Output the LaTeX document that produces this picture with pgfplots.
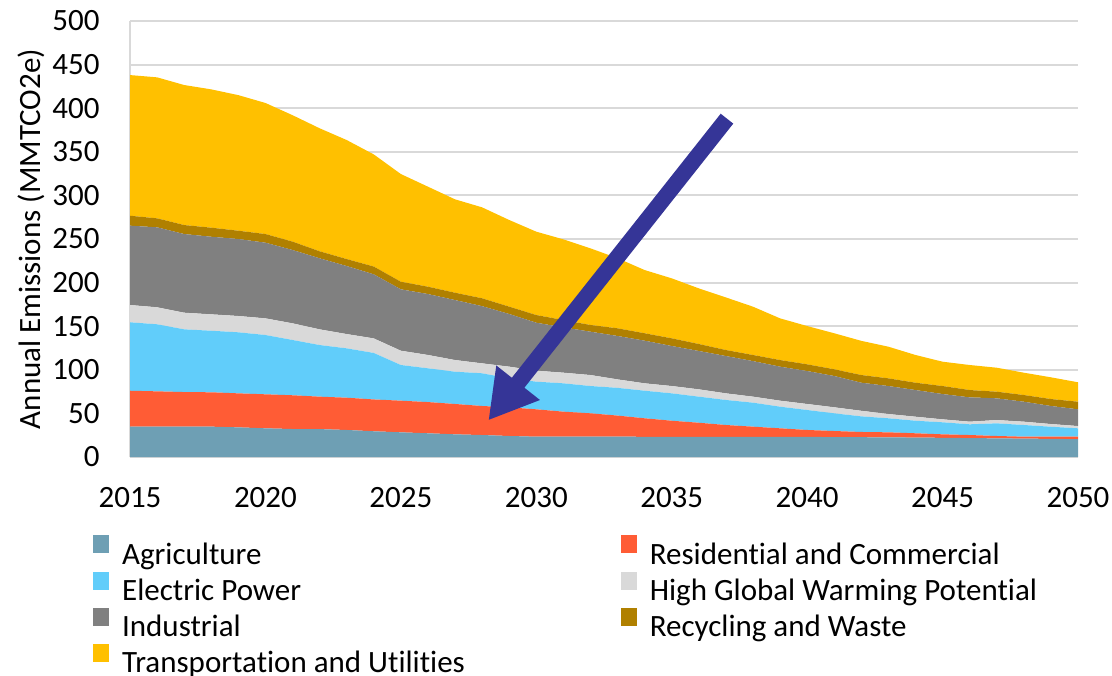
\documentclass[border=0pt]{standalone}
\usepackage{fontspec}
\setmainfont{Carlito}[Ligatures={NoCommon}]
\usepackage{pgfplots}
\usepackage{pgfplotstable}
\pgfplotsset{compat=1.18}
\usetikzlibrary{arrows.meta}
\definecolor{cAg}{HTML}{6E9FB4}
\definecolor{cRes}{HTML}{FF5C35}
\definecolor{cEl}{HTML}{61CDFA}
\definecolor{cHg}{HTML}{D9D9D9}
\definecolor{cInd}{HTML}{808080}
\definecolor{cRec}{HTML}{B08000}
\definecolor{cTr}{HTML}{FFC000}
\definecolor{cArrow}{HTML}{353597}
\definecolor{cGrid}{HTML}{D9D9D9}
\pgfplotstableread{
year a r e h i w t
2015 34.8 41.2 78.5 19.8 91.0 11.4 161.3
2016 34.8 40.5 76.9 19.5 91.7 10.3 161.7
2017 34.8 39.7 71.9 19.1 90.2 10.3 160.6
2018 34.8 39.4 70.6 18.8 89.0 10.4 158.6
2019 34.0 39.0 70.0 18.7 88.3 9.5 155.5
2020 32.9 39.0 68.0 19.1 86.8 9.9 150.3
2021 32.1 38.7 63.4 19.1 84.1 9.6 145.0
2022 32.0 37.2 59.2 18.0 81.5 8.0 141.1
2023 31.0 37.0 56.6 16.4 78.0 8.0 136.5
2024 29.5 36.5 53.3 16.7 73.5 8.9 128.6
2025 28.3 36.3 40.9 16.4 70.4 8.7 123.5
2026 27.2 35.8 38.7 15.3 69.9 8.4 114.7
2027 26.0 34.8 37.0 13.4 68.8 8.4 107.1
2028 25.2 33.3 37.5 11.4 65.6 9.0 104.3
2029 24.1 32.9 33.2 13.4 60.4 8.4 99.4
2030 23.3 31.4 31.7 12.6 55.0 8.8 95.6
2031 23.3 28.7 32.5 12.2 52.0 8.4 92.5
2032 23.3 26.8 31.3 12.6 49.7 7.7 87.9
2033 23.3 24.2 31.8 9.7 49.8 8.8 80.4
2034 23.2 21.2 31.6 8.5 48.9 8.5 72.5
2035 23.2 18.4 31.4 8.4 45.9 8.8 68.8
2036 23.1 16.2 29.9 8.4 44.0 8.0 63.8
2037 23.1 13.6 28.7 7.6 42.8 6.9 60.3
2038 23.0 11.8 27.5 6.9 40.8 7.0 55.4
2039 23.0 9.9 24.8 6.9 39.0 7.6 47.8
2040 23.0 8.0 22.9 6.9 37.8 7.7 43.9
2041 22.9 6.9 20.3 6.9 35.9 7.7 41.3
2042 22.7 6.0 17.9 6.4 32.2 8.8 39.2
2043 22.5 5.8 16.1 4.9 32.1 8.8 36.3
2044 22.3 4.9 14.4 4.6 30.6 8.4 31.8
2045 22.0 4.0 13.8 3.4 29.0 9.2 27.9
2046 21.7 3.5 12.3 3.0 27.9 8.4 28.7
2047 21.4 2.7 14.5 3.8 24.9 7.6 27.5
2048 21.1 2.2 13.4 3.8 22.9 7.7 25.6
2049 20.8 2.5 11.4 3.1 20.7 8.0 24.9
2050 20.5 2.8 9.6 2.6 19.2 8.7 22.3
}\datatable
\begin{document}
\begin{tikzpicture}
\begin{axis}[
  scale only axis,
  width=474pt, height=218pt,
  xmin=2015, xmax=2050, ymin=0, ymax=500,
  xtick={2015,2020,...,2050},
  ytick={0,50,...,500},
  stack plots=y,
  axis x line*=bottom, axis y line*=left,
  axis line style={draw=cGrid, line width=1pt, -},
  major tick length=0pt,
  ymajorgrids, grid style={draw=cGrid, line width=1pt},
  /pgf/number format/assume math mode=true,
  /pgf/number format/1000 sep={},
  tick label style={font=\fontsize{15.5}{18.6}\selectfont, inner sep=0pt},
  xticklabel style={anchor=north, yshift=-15pt},
  yticklabel style={anchor=east, xshift=-15pt},
  ylabel={Annual Emissions (MMTCO2e)},
  every axis y label/.style={at={(axis description cs:-0.1044,0.5)}, rotate=90, anchor=center, font=\fontsize{15.5}{18.6}\selectfont},
  legend columns=2,
  legend cell align=left,
  legend image code/.code={\fill[#1,draw=none] (0pt,0.5pt) rectangle (8pt,9.5pt);},
  legend style={draw=none, fill=none, at={(axis description cs:-0.039,-0.1789)}, anchor=north west,
    inner sep=0pt, column sep=0pt, row sep=0pt,
    font=\fontsize{15.5}{18.6}\selectfont,
    nodes={inner xsep=1.5pt, inner ysep=1pt, text height=12.5pt, text depth=2.75pt},
    /tikz/every odd column/.append style={column sep=4.85pt}},
]
\addplot[fill=cAg, draw=none] table[x=year,y=a]{\datatable} \closedcycle;
\addlegendentry{\makebox[248pt][l]{Agriculture}}
\addplot[fill=cRes, draw=none] table[x=year,y=r]{\datatable} \closedcycle;
\addlegendentry{Residential and Commercial}
\addplot[fill=cEl, draw=none] table[x=year,y=e]{\datatable} \closedcycle;
\addlegendentry{\makebox[248pt][l]{Electric Power}}
\addplot[fill=cHg, draw=none] table[x=year,y=h]{\datatable} \closedcycle;
\addlegendentry{High Global Warming Potential}
\addplot[fill=cInd, draw=none] table[x=year,y=i]{\datatable} \closedcycle;
\addlegendentry{\makebox[248pt][l]{Industrial}}
\addplot[fill=cRec, draw=none] table[x=year,y=w]{\datatable} \closedcycle;
\addlegendentry{Recycling and Waste}
\addplot[fill=cTr, draw=none] table[x=year,y=t]{\datatable} \closedcycle;
\addlegendentry{\makebox[248pt][l]{Transportation and Utilities}}
\coordinate (arrowTail) at (axis cs:2037.04,388);
\coordinate (arrowTip) at (axis cs:2028.23,42);
\end{axis}
\draw[cArrow, line width=8pt, -{Triangle[length=24pt,width=26pt]}] (arrowTail) -- (arrowTip);
\pgfresetboundingbox
\path[use as bounding box] (current axis.south west) ++(-65pt,-109pt) rectangle ++(556pt,337.5pt);
\end{tikzpicture}
\end{document}
